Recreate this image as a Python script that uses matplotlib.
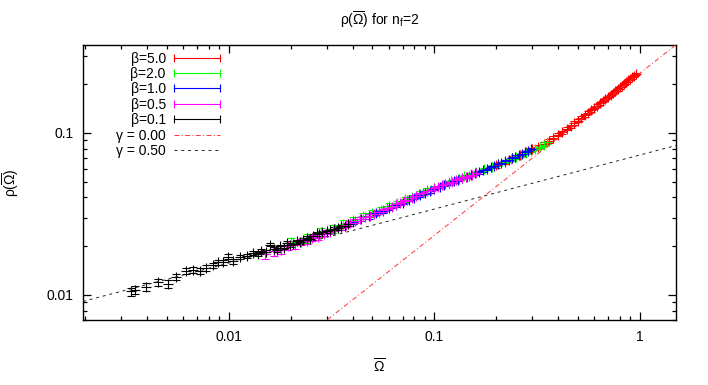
import numpy as np
import matplotlib
matplotlib.use("Agg")
import matplotlib.pyplot as plt
from matplotlib.lines import Line2D
from matplotlib.legend_handler import HandlerLine2D
from matplotlib.ticker import FixedLocator, LogLocator, NullFormatter, FixedFormatter

plt.rcParams['font.family'] = ['Liberation Sans', 'DejaVu Sans']
plt.rcParams['mathtext.fontset'] = 'custom'
plt.rcParams['mathtext.rm'] = 'Liberation Sans'
plt.rcParams['mathtext.it'] = 'Liberation Sans'
plt.rcParams['mathtext.bf'] = 'Liberation Sans'

# ---------------- data ----------------
black_omega = [0.00335, 0.00348, 0.00397, 0.00452, 0.00506, 0.00556, 0.00617, 0.00669, 0.00722, 0.00778,
               0.00838, 0.00887, 0.00938, 0.0099, 0.0105, 0.0113, 0.0122, 0.0131, 0.0138, 0.0144,
               0.0151, 0.0158, 0.0165, 0.0171, 0.0178, 0.0185, 0.0191, 0.0198, 0.0205, 0.0214,
               0.0221, 0.0229, 0.0239, 0.0247, 0.0256, 0.0268, 0.0276, 0.0285, 0.0300, 0.0312,
               0.0325, 0.0338, 0.0352, 0.0366, 0.0381]
black_rho = [0.0105, 0.0107, 0.0112, 0.0120, 0.0117, 0.0129, 0.0140, 0.0143, 0.0140, 0.0147,
             0.0152, 0.0159, 0.0159, 0.0172, 0.0161, 0.0172, 0.0173, 0.0182, 0.0180, 0.0186,
             0.0184, 0.0204, 0.0192, 0.0190, 0.0199, 0.0196, 0.0209, 0.0203, 0.0207, 0.0214,
             0.0212, 0.0219, 0.0225, 0.0222, 0.0231, 0.0241, 0.0236, 0.0243, 0.0247, 0.0250,
             0.0256, 0.0258, 0.0265, 0.0268, 0.0272]
black_err = [0.0006, 0.0006, 0.0006, 0.0006, 0.0006, 0.0006, 0.0006, 0.0006, 0.0006, 0.0006,
             0.0006, 0.0006, 0.0006, 0.0006, 0.0006, 0.0005, 0.0005, 0.0005, 0.0005, 0.0005,
             0.0005, 0.0005, 0.0005, 0.0005, 0.0005, 0.0005, 0.0005, 0.0005, 0.0005, 0.0005,
             0.0005, 0.0005, 0.0005, 0.0005, 0.0005, 0.0005, 0.0005, 0.0005, 0.0005, 0.0005,
             0.0005, 0.0005, 0.0005, 0.0005, 0.0005]

magenta_omega = [0.0150, 0.0165, 0.0180, 0.0195, 0.0210, 0.0225, 0.0240, 0.0255, 0.0270, 0.0290,
                 0.0310, 0.0330, 0.0350, 0.0370, 0.0390, 0.0410, 0.0435, 0.0460, 0.0485, 0.0510,
                 0.0535, 0.0560, 0.0590, 0.0620, 0.0650, 0.0680, 0.0710, 0.0740, 0.0775, 0.0810,
                 0.0845, 0.0880, 0.0920, 0.0960, 0.1000, 0.1040, 0.1085, 0.1130, 0.1175, 0.1220,
                 0.1270, 0.1320, 0.1370, 0.1420, 0.1475, 0.1530, 0.1590]
magenta_rho = [0.0178, 0.0186, 0.0190, 0.0199, 0.0203, 0.0212, 0.0215, 0.0224, 0.0228, 0.0238,
               0.0244, 0.0255, 0.0260, 0.0271, 0.0276, 0.0285, 0.0293, 0.0301, 0.0309, 0.0316,
               0.0325, 0.0333, 0.0345, 0.0351, 0.0362, 0.0369, 0.0379, 0.0386, 0.0399, 0.0405,
               0.0417, 0.0424, 0.0436, 0.0445, 0.0457, 0.0462, 0.0475, 0.0482, 0.0493, 0.0500,
               0.0512, 0.0518, 0.0529, 0.0535, 0.0545, 0.0552, 0.0562]
magenta_err = [0.0011, 0.0011, 0.0010, 0.0010, 0.0010, 0.0009, 0.0009, 0.0009, 0.0009, 0.0008,
               0.0008, 0.0008, 0.0008, 0.0008, 0.0008, 0.0008, 0.0008, 0.0008, 0.0008, 0.0008,
               0.0008, 0.0008, 0.0008, 0.0008, 0.0008, 0.0008, 0.0008, 0.0008, 0.0008, 0.0008,
               0.0008, 0.0008, 0.0008, 0.0008, 0.0008, 0.0008, 0.0008, 0.0008, 0.0008, 0.0008,
               0.0008, 0.0008, 0.0008, 0.0008, 0.0008, 0.0008, 0.0008]

green_omega = [0.020, 0.024, 0.028, 0.032, 0.036, 0.040, 0.045, 0.050, 0.055, 0.060,
               0.066, 0.072, 0.078, 0.085, 0.092, 0.100, 0.110, 0.120, 0.130, 0.140,
               0.150, 0.160, 0.175, 0.190, 0.205, 0.220, 0.235, 0.250, 0.265, 0.280,
               0.295, 0.310, 0.325, 0.340, 0.355]
green_rho = [0.0212, 0.0224, 0.0243, 0.0256, 0.0274, 0.0288, 0.0305, 0.0322, 0.0336, 0.0354,
             0.0368, 0.0388, 0.0403, 0.0422, 0.0441, 0.0459, 0.0480, 0.0502, 0.0521, 0.0538,
             0.0555, 0.0571, 0.0595, 0.0619, 0.0640, 0.0664, 0.0686, 0.0707, 0.0731, 0.0752,
             0.0776, 0.0798, 0.0822, 0.0846, 0.0872]
green_err = [0.0014, 0.0014, 0.0014, 0.0014, 0.0014, 0.0014, 0.0013, 0.0013, 0.0013, 0.0013,
             0.0013, 0.0013, 0.0013, 0.0013, 0.0013, 0.0013, 0.0013, 0.0013, 0.0013, 0.0013,
             0.0013, 0.0013, 0.0013, 0.0013, 0.0013, 0.0013, 0.0013, 0.0013, 0.0013, 0.0013,
             0.0013, 0.0013, 0.0013, 0.0013, 0.0013]

blue_omega = [0.040, 0.044, 0.048, 0.052, 0.056, 0.060, 0.065, 0.070, 0.075, 0.080,
              0.085, 0.090, 0.095, 0.100, 0.106, 0.112, 0.118, 0.124, 0.130, 0.137,
              0.144, 0.151, 0.158, 0.165, 0.172, 0.180, 0.188, 0.196, 0.204, 0.212,
              0.221, 0.230, 0.239, 0.248, 0.257, 0.266, 0.276, 0.286, 0.296]
blue_rho = [0.0282, 0.0295, 0.0305, 0.0320, 0.0329, 0.0344, 0.0358, 0.0371, 0.0387, 0.0399,
            0.0412, 0.0427, 0.0436, 0.0452, 0.0463, 0.0478, 0.0488, 0.0501, 0.0512, 0.0525,
            0.0536, 0.0548, 0.0562, 0.0570, 0.0587, 0.0599, 0.0614, 0.0624, 0.0640, 0.0651,
            0.0669, 0.0683, 0.0697, 0.0714, 0.0727, 0.0744, 0.0758, 0.0778, 0.0794]
blue_err = [0.0009, 0.0009, 0.0009, 0.0009, 0.0009, 0.0009, 0.0009, 0.0009, 0.0009, 0.0009,
            0.0009, 0.0009, 0.0009, 0.0009, 0.0009, 0.0009, 0.0009, 0.0009, 0.0009, 0.0009,
            0.0010, 0.0010, 0.0010, 0.0010, 0.0010, 0.0010, 0.0010, 0.0010, 0.0010, 0.0010,
            0.0011, 0.0011, 0.0011, 0.0011, 0.0011, 0.0011, 0.0011, 0.0011, 0.0011]

red_omega = [0.20, 0.22, 0.24, 0.26, 0.28, 0.30, 0.32, 0.34, 0.36, 0.38,
             0.40, 0.42, 0.44, 0.46, 0.48, 0.50, 0.52, 0.54, 0.56, 0.58,
             0.60, 0.62, 0.64, 0.66, 0.68, 0.70, 0.72, 0.74, 0.76, 0.78,
             0.80, 0.82, 0.84, 0.86, 0.88, 0.90, 0.92, 0.94, 0.96]
red_rho = [0.0630, 0.0662, 0.0695, 0.0725, 0.0757, 0.0790, 0.0822, 0.0858, 0.0892, 0.0935,
           0.0975, 0.1010, 0.1060, 0.1095, 0.1150, 0.1190, 0.1240, 0.1285, 0.1335, 0.1380,
           0.1425, 0.1470, 0.1525, 0.1575, 0.1620, 0.1670, 0.1715, 0.1760, 0.1815, 0.1855,
           0.1910, 0.1950, 0.2010, 0.2050, 0.2105, 0.2150, 0.2200, 0.2255, 0.2300]
red_err = [0.0020, 0.0020, 0.0020, 0.0020, 0.0020, 0.0020, 0.0022, 0.0022, 0.0022, 0.0022,
           0.0024, 0.0024, 0.0024, 0.0024, 0.0026, 0.0026, 0.0026, 0.0026, 0.0028, 0.0028,
           0.0028, 0.0028, 0.0030, 0.0030, 0.0030, 0.0030, 0.0032, 0.0032, 0.0032, 0.0032,
           0.0034, 0.0034, 0.0034, 0.0034, 0.0036, 0.0036, 0.0036, 0.0036, 0.0036]

series_labels = ["β=5.0", "β=2.0", "β=1.0", "β=0.5", "β=0.1"]
series_colors = ["#ff0000", "#00ff00", "#0000ff", "#ff00ff", "#000000"]

# reference power laws rho = coef * Omega**expo
gamma_labels = ["γ = 0.00", "γ = 0.50"]
gamma_coef = [0.233, 0.073]
gamma_expo = [1.0, 1.0 / 3.0]
gamma_colors = ["#ff3333", "#222222"]

x_ticks = [0.01, 0.1, 1]
x_ticklabels = ["0.01", "0.1", "1"]
y_ticks = [0.01, 0.1]
y_ticklabels = ["0.01", "0.1"]
xlim = (0.00195, 1.5)
ylim = (0.007, 0.35)

# ---------------- figure ----------------
fig = plt.figure(figsize=(7.08, 3.85), dpi=100)
ax = fig.add_axes([83 / 708, 65 / 385, 593 / 708, 275.3 / 385])

datasets = [
    (red_omega, red_rho, red_err),
    (green_omega, green_rho, green_err),
    (blue_omega, blue_rho, blue_err),
    (magenta_omega, magenta_rho, magenta_err),
    (black_omega, black_rho, black_err),
]

handles = []
for (om, rh, er), lab, col in zip(datasets, series_labels, series_colors):
    ax.errorbar(om, rh, yerr=er, fmt='+', color=col, ms=6.5, mew=0.8,
                elinewidth=0.7, capsize=2.6, capthick=0.7)
    handles.append(Line2D([0, 1], [0, 0], color=col, lw=0.8, marker='|', ms=6, mew=0.8))

omega_line = np.geomspace(xlim[0], xlim[1], 200)
styles = [(0, (5, 2.5, 1, 2.5)), (0, (3, 4))]
for lab, c, e, col, ls in zip(gamma_labels, gamma_coef, gamma_expo, gamma_colors, styles):
    ax.plot(omega_line, c * omega_line ** e, color=col, lw=0.7, ls=ls, zorder=5)
    handles.append(Line2D([0, 1], [0, 0], color=col, lw=0.7, ls=ls))

ax.set_xscale('log')
ax.set_yscale('log')
ax.set_xlim(*xlim)
ax.set_ylim(*ylim)

ax.xaxis.set_major_locator(FixedLocator(x_ticks))
ax.xaxis.set_major_formatter(FixedFormatter(x_ticklabels))
ax.yaxis.set_major_locator(FixedLocator(y_ticks))
ax.yaxis.set_major_formatter(FixedFormatter(y_ticklabels))
ax.xaxis.set_minor_locator(LogLocator(base=10, subs=np.arange(2, 10)))
ax.yaxis.set_minor_locator(LogLocator(base=10, subs=np.arange(2, 10)))
ax.xaxis.set_minor_formatter(NullFormatter())
ax.yaxis.set_minor_formatter(NullFormatter())
ax.tick_params(which='both', direction='in', top=True, right=True, labelsize=10, width=0.9)
ax.tick_params(which='major', length=6, pad=7)
ax.tick_params(which='minor', length=3)
for s in ax.spines.values():
    s.set_linewidth(1.0)

ax.set_title(r'$\rho(\overline{\Omega})$ for n$_\mathrm{f}$=2', fontsize=10, pad=14)
ax.set_xlabel(r'$\overline{\Omega}$', fontsize=10, labelpad=10)
ax.set_ylabel(r'$\rho(\overline{\Omega})$', fontsize=10, labelpad=18)

leg = ax.legend(handles, series_labels + gamma_labels, loc='upper right',
                bbox_to_anchor=(0.231, 0.975), frameon=False, markerfirst=False,
                fontsize=10, handlelength=3.3, handletextpad=0.6, labelspacing=0.1,
                borderpad=0, borderaxespad=0,
                handler_map={Line2D: HandlerLine2D(marker_pad=0, numpoints=2)})

fig.savefig('out.png', dpi=100)
